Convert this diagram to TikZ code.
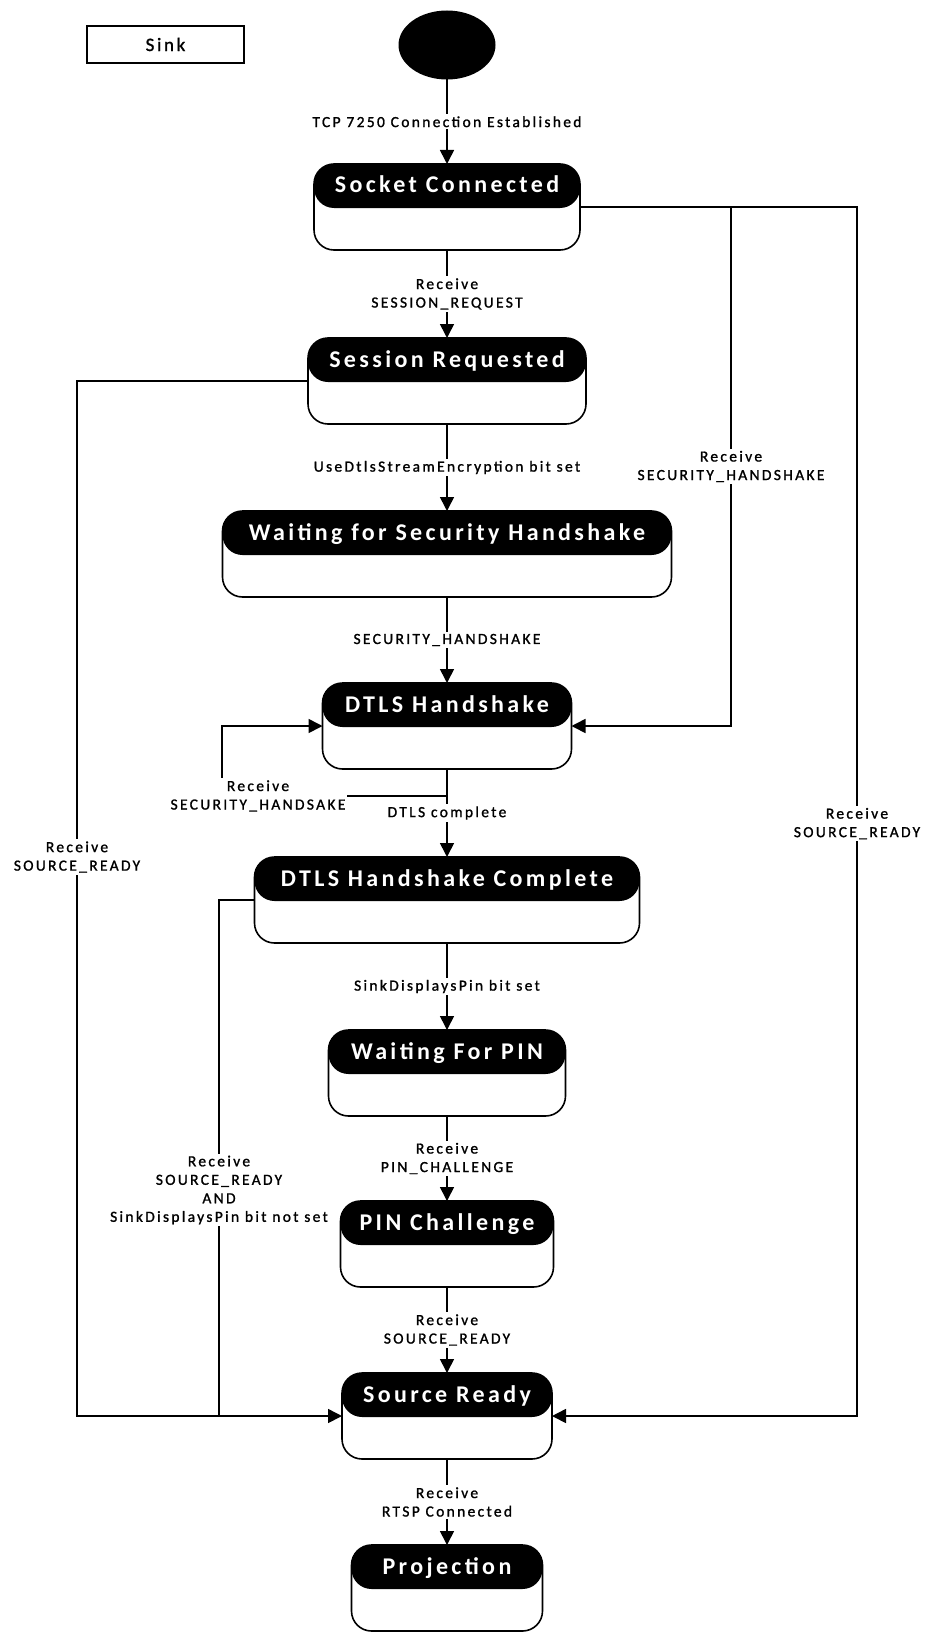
\documentclass[tikz,border=0pt]{standalone}
\usepackage{fontspec}
\setmainfont{Carlito}
\newfontfamily\lblfont[LetterSpace=15,FakeBold=1.2]{Carlito}
\newfontfamily\hdrfont[LetterSpace=14]{Carlito}
\newfontfamily\sinkfont[LetterSpace=14,FakeBold=1.2]{Carlito}
\usetikzlibrary{arrows.meta,shapes.geometric}
\tikzset{
  statebox/.style={draw, line width=1.6pt, rounded corners=20pt,
    minimum width=#1, minimum height=86pt, inner sep=0pt, outer sep=0pt,
    text=white, text height=2pt, text depth=30pt,
    font=\hdrfont\bfseries\fontsize{24}{28}\selectfont,
    path picture={\fill[black] (path picture bounding box.north west) rectangle ([yshift=-44pt]path picture bounding box.north east);}},
  lbl/.style={fill=white, inner sep=2pt, align=center, text=black,
    font=\lblfont\fontsize{15.5}{18.5}\selectfont},
  arr/.style={draw, line width=1.6pt, -{Triangle[length=14pt,width=14pt]}},
  plain/.style={draw, line width=1.6pt}
}
\begin{document}
\begin{tikzpicture}[x=1pt,y=-1pt]
\useasboundingbox (0,0) rectangle (929,1632);

% legend
\node[draw, line width=1.3pt, minimum width=157pt, minimum height=37pt, inner sep=0pt,
  font=\sinkfont\fontsize{19}{22}\selectfont] (sink) at (165.5,44.5) {Sink};

% initial state
\node[ellipse, fill=black, minimum width=97pt, minimum height=69pt, inner sep=0pt, outer sep=0pt] (init) at (447,45) {};

% states
\node[statebox=266pt] (sc)  at (447,207)  {Socket Connected};
\node[statebox=278pt] (sr)  at (447,381)  {Session Requested};
\node[statebox=449pt] (wsh) at (447,554)  {Waiting for Security Handshake};
\node[statebox=249pt] (dh)  at (447,726)  {DTLS Handshake};
\node[statebox=385pt] (dhc) at (447,900)  {DTLS Handshake Complete};
\node[statebox=237pt] (wfp) at (447,1073) {Waiting For PIN};
\node[statebox=213pt] (pc)  at (447,1244) {PIN Challenge};
\node[statebox=210pt] (srd) at (447,1416) {Source Ready};
\node[statebox=191pt] (pj)  at (447,1588) {Projection};

% main chain
\draw[arr] (init) -- node[lbl] {TCP 7250 Connection Established} (sc);
\draw[arr] (sc) -- node[lbl] {Receive\\SESSION\_REQUEST} (sr);
\draw[arr] (sr) -- node[lbl] {UseDtlsStreamEncryption bit set} (wsh);
\draw[arr] (wsh) -- node[lbl] {SECURITY\_HANDSHAKE} (dh);
\draw[arr] (dh) -- node[lbl] {DTLS complete} (dhc);
\draw[arr] (dhc) -- node[lbl] {SinkDisplaysPin bit set} (wfp);
\draw[arr] (wfp) -- node[lbl] {Receive\\PIN\_CHALLENGE} (pc);
\draw[arr] (pc) -- node[lbl] {Receive\\SOURCE\_READY} (srd);
\draw[arr] (srd) -- node[lbl] {Receive\\RTSP Connected} (pj);

% self loop on DTLS Handshake
\coordinate (ls) at (447,796);
\coordinate (lc) at (222,796);
\draw[arr] (ls) -- (lc) |- (dh.west);
\node[lbl] (loopl) at (258,796) {Receive\\SECURITY\_HANDSAKE};

% right side connectors
\coordinate (rA) at (731,207);
\coordinate (rB) at (857,207);
\draw[arr] (sc.east) -- (rA) |- node[lbl, pos=0.25] {Receive\\SECURITY\_HANDSHAKE} (dh.east);
\draw[arr] (rA) -- (rB) |- node[lbl, pos=0.255] {Receive\\SOURCE\_READY} (srd.east);

% left side connectors
\coordinate (lA) at (77,381);
\coordinate (lB) at (219,900);
\draw[arr] (sr.west) -- (lA) |- node[lbl, pos=0.23] {Receive\\SOURCE\_READY} (srd.west);
\draw[plain] (dhc.west) -- (lB) -- node[lbl, pos=0.562] {Receive\\SOURCE\_READY\\AND\\SinkDisplaysPin bit not set} (lB |- srd.west);
\end{tikzpicture}
\end{document}
